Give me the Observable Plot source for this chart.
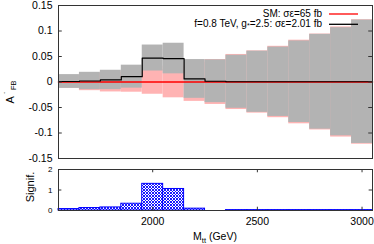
<!DOCTYPE html>
<html>
<head>
<meta charset="utf-8">
<script src="https://cdn.jsdelivr.net/npm/d3@7"></script>
<script src="https://cdn.jsdelivr.net/npm/@observablehq/plot@0.6"></script>
<style>
  html, body { margin: 0; padding: 0; background: #fff; }
  #chart { position: relative; width: 374px; height: 244px; overflow: hidden; font-family: "Liberation Sans", Arial, sans-serif; }
  #chart svg { position: absolute; left: 0; }
</style>
</head>
<body>
<div id="chart"></div>
<script>
// ---- data ----
const binEdges = [1550, 1650, 1750, 1850, 1950, 2050, 2150, 2250, 2350, 2450, 2550, 2650, 2750, 2850, 2950, 3050];
const smA      = [0, 0, 0, 0, 0, 0, 0, 0, 0, 0, 0, 0, 0, 0, 0];
const smErr    = [0.012, 0.017, 0.0195, 0.020, 0.024, 0.031, 0.038, 0.044, 0.054, 0.061, 0.070, 0.082, 0.094, 0.108, 0.122];
const sigA     = [0.001, 0.002, 0.004, 0.0105, 0.047, 0.046, 0.006, 0.0015, 0.0005, 0.0005, 0.0005, 0.0005, 0.0005, 0.0005, 0.0005];
const sigErr   = [0.0135, 0.017, 0.019, 0.0225, 0.0255, 0.030, 0.038, 0.042, 0.052, 0.060, 0.068, 0.080, 0.093, 0.106, 0.121];
const signif   = [0.07, 0.12, 0.15, 0.33, 1.3, 1.05, 0.09, null, 0.02, 0.02, 0.02, 0.02, 0.02, 0.02, 0.02];

const yTicks      = [-0.15, -0.1, -0.05, 0, 0.05, 0.1, 0.15];
const yTickLabels = ["-0.15", "-0.1", "-0.05", "0", "0.05", "0.1", "0.15"];
const sTicks      = [0, 1, 2];
const xTicks      = [2000, 2500, 3000];

const legendSM  = "SM: σε=65 fb";
const legendSig = ["f=0.8 TeV, g", "*", "=2.5: σε=2.01 fb"];

// ---- derived tables ----
const bins = sigA.map((d, i) => ({
  x1: binEdges[i], x2: binEdges[i + 1],
  sig: sigA[i], sigErr: sigErr[i], sm: smA[i], smErr: smErr[i], s: signif[i]
}));
const stepPts = key => bins.flatMap(b => [{x: b.x1, y: b[key]}, {x: b.x2, y: b[key]}]);
const xDom = [binEdges[0], binEdges[binEdges.length - 1]];
const font = "Liberation Sans, Arial, sans-serif";
const frameColor = "#333";

const main = Plot.plot({
  width: 374, height: 162,
  marginLeft: 58, marginRight: 2, marginTop: 5, marginBottom: 4,
  x: {domain: xDom, axis: null},
  y: {domain: [-0.15, 0.15], axis: null},
  style: {fontFamily: font, fontSize: "10.5px", background: "transparent", overflow: "visible"},
  marks: [
    Plot.rect(bins, {x1: "x1", x2: "x2", y1: d => d.sm - d.smErr, y2: d => d.sm + d.smErr, fill: "#ffb3b3"}),
    Plot.rect(bins, {x1: "x1", x2: "x2", y1: d => d.sig - d.sigErr, y2: d => d.sig + d.sigErr, fill: "#b3b3b3"}),
    Plot.line(stepPts("sm"), {x: "x", y: "y", stroke: "#f00", strokeWidth: 1.6}),
    Plot.line(stepPts("sig"), {x: "x", y: "y", stroke: "#000", strokeWidth: 1.2}),
    Plot.ruleY(yTicks, {x1: xDom[0], x2: xDom[0] + 18, stroke: frameColor}),
    Plot.ruleY(yTicks, {x1: xDom[1] - 18, x2: xDom[1], stroke: frameColor}),
    Plot.axisY(yTicks, {label: null, tickSize: 0, tickPadding: 6, fontSize: 10.5, tickFormat: d => yTickLabels[yTicks.indexOf(d)]}),
    Plot.frame({stroke: frameColor})
  ]
});
main.style.top = "0px";

const sub = Plot.plot({
  width: 374, height: 84,
  marginLeft: 58, marginRight: 2, marginTop: 9, marginBottom: 34,
  x: {domain: xDom, axis: null},
  y: {domain: [0, 2], axis: null},
  style: {fontFamily: font, fontSize: "10.5px", background: "transparent", overflow: "visible"},
  marks: [
    Plot.rect(bins.filter(b => b.s != null), {x1: "x1", x2: "x2", y1: 0, y2: "s", fill: "url(#hatch)", stroke: "#0000ff", strokeWidth: 1}),
    Plot.ruleX(xTicks, {y1: 0, y2: 0.16, stroke: frameColor}),
    Plot.ruleX(xTicks, {y1: 1.84, y2: 2, stroke: frameColor}),
    Plot.ruleY(sTicks, {x1: xDom[0], x2: xDom[0] + 16, stroke: frameColor}),
    Plot.ruleY(sTicks, {x1: xDom[1] - 16, x2: xDom[1], stroke: frameColor}),
    Plot.axisX(xTicks, {label: null, tickSize: 0, tickPadding: 7, fontSize: 10.5, tickFormat: d => String(d)}),
    Plot.axisY(sTicks, {label: null, tickSize: 0, tickPadding: 6, fontSize: 8, tickFormat: d => String(d)}),
    Plot.frame({stroke: frameColor})
  ]
});
sub.style.top = "160px";

// hatch pattern for significance bars
const defs = d3.select(sub).insert("defs", ":first-child");
const pat = defs.append("pattern").attr("id", "hatch").attr("patternUnits", "userSpaceOnUse")
  .attr("width", 3).attr("height", 3);
pat.append("rect").attr("width", 3).attr("height", 3).attr("fill", "#fff");
pat.append("path").attr("d", "M0,0L3,3M3,0L0,3").attr("stroke", "#0000ff").attr("stroke-width", 0.9);

// main panel labels
const ms = d3.select(main);
const yl = ms.append("text").attr("transform", "translate(13.5,92) rotate(-90)")
  .attr("font-family", font).attr("font-size", 11).attr("fill", "#000");
yl.append("tspan").text("A");
yl.append("tspan").attr("font-size", 8).attr("dx", 2).attr("dy", -7).text("·");
yl.append("tspan").attr("font-size", 7.5).attr("dx", 1.5).attr("dy", 9.5).text("FB");

// legend
const lg = ms.append("g").attr("font-family", font).attr("font-size", 10).attr("fill", "#000");
lg.append("text").attr("x", 322).attr("y", 16.8).attr("text-anchor", "end").text(legendSM);
const t2 = lg.append("text").attr("x", 322).attr("y", 26.6).attr("text-anchor", "end");
t2.append("tspan").text(legendSig[0]);
t2.append("tspan").attr("font-size", 7).attr("dy", 1.5).text(legendSig[1]);
t2.append("tspan").attr("dy", -1.5).text(legendSig[2]);
lg.append("line").attr("x1", 329).attr("x2", 358).attr("y1", 14).attr("y2", 14).attr("stroke", "#f00").attr("stroke-width", 1.3);
lg.append("line").attr("x1", 329).attr("x2", 358).attr("y1", 24.3).attr("y2", 24.3).attr("stroke", "#000").attr("stroke-width", 1.3);

// sub panel labels
const ss = d3.select(sub);
ss.append("text").attr("transform", "translate(33.5,27) rotate(-90)").attr("text-anchor", "middle")
  .attr("font-family", font).attr("font-size", 11).attr("fill", "#000").text("Signif.");
const xl = ss.append("text").attr("x", 215).attr("y", 80).attr("text-anchor", "middle")
  .attr("font-family", font).attr("font-size", 10.5).attr("fill", "#000");
xl.append("tspan").text("M");
xl.append("tspan").attr("font-size", 7.5).attr("dy", 2.5).text("tt");
xl.append("tspan").attr("dy", -2.5).text(" (GeV)");

const chart = document.getElementById("chart");
chart.appendChild(main);
chart.appendChild(sub);
</script>
</body>
</html>
